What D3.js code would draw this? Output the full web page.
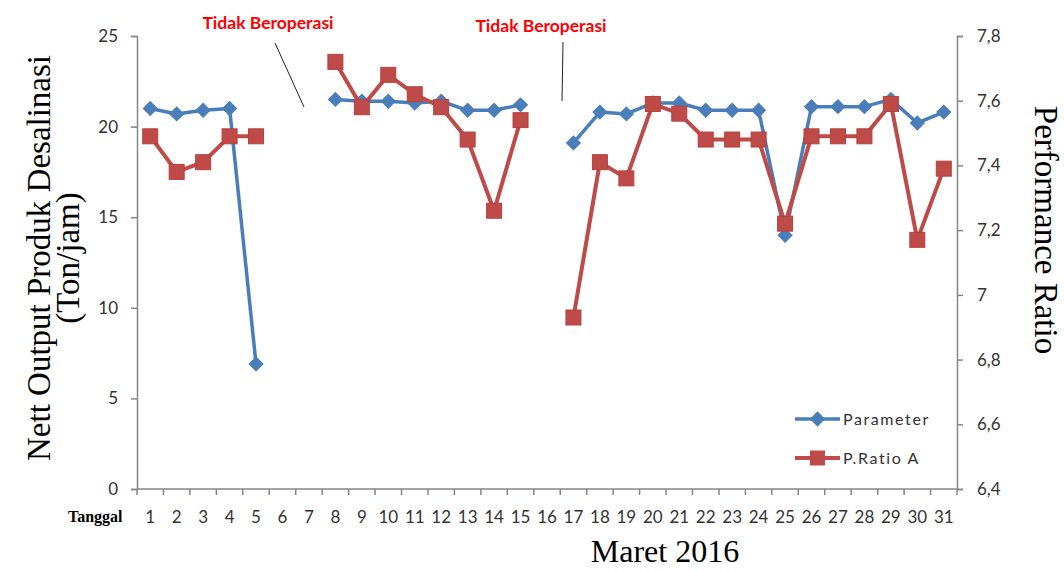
<!DOCTYPE html>
<html>
<head>
<meta charset="utf-8">
<script src="https://cdn.jsdelivr.net/npm/d3@7"></script>
<style>
  body { margin: 0; background: #fff; }
  svg { display: block; }
  .axis path, .axis line { stroke: #868686; stroke-width: 1.5; }
  .axis text { font-family: Lato, 'Open Sans', sans-serif; font-size: 17px; fill: #333; }
</style>
</head>
<body>
<svg></svg>
<script>
// tanggal (Maret 2016)
var days = ['1','2','3','4','5','6','7','8','9','10','11','12','13','14','15','16',
            '17','18','19','20','21','22','23','24','25','26','27','28','29','30','31'];
// Nett output produk desalinasi (ton/jam), left axis
var parameter = [21.0, 20.7, 20.9, 21.0, 6.9, null, null, 21.5, 21.4, 21.4, 21.3, 21.4, 20.9, 20.9, 21.2, null,
                 19.1, 20.8, 20.7, 21.3, 21.3, 20.9, 20.9, 20.9, 14.0, 21.1, 21.1, 21.1, 21.5, 20.2, 20.8];
// performance ratio, right axis
var ratioA = [7.49, 7.38, 7.41, 7.49, 7.49, null, null, 7.72, 7.58, 7.68, 7.62, 7.58, 7.48, 7.26, 7.54, null,
              6.93, 7.41, 7.36, 7.59, 7.56, 7.48, 7.48, 7.48, 7.22, 7.49, 7.49, 7.49, 7.59, 7.17, 7.39];
var leftTicks = [0, 5, 10, 15, 20, 25];
var rightTicks = [6.4, 6.6, 6.8, 7.0, 7.2, 7.4, 7.6, 7.8];
var seriesNames = ['Parameter', 'P.Ratio A'];
var notes = ['Tidak Beroperasi', 'Tidak Beroperasi'];

var W = 1064, H = 570;
var L = 137, R = 957, T = 36, B = 489;
var blue = '#4a7ebb', red = '#be4b48';

var svg = d3.select('svg').attr('width', W).attr('height', H);

var x = d3.scaleBand().domain(days).range([L, R]);
var yL = d3.scaleLinear().domain([0, 25]).range([B, T]);
var yR = d3.scaleLinear().domain([6.4, 7.8]).range([B, T]);

// axes
var xAxis = svg.append('g').attr('class', 'axis')
    .attr('transform', 'translate(0,' + B + ')')
    .call(d3.axisBottom(x).tickSize(0));
xAxis.select('.domain').attr('d', 'M' + L + ',0H' + R);
xAxis.selectAll('text').attr('dy', null).attr('y', 34);
// excel style ticks between the categories
xAxis.selectAll('.bnd').data(d3.range(days.length + 1)).enter().append('line')
    .attr('x1', function (i) { return L + i * x.step(); })
    .attr('x2', function (i) { return L + i * x.step(); })
    .attr('y1', 0).attr('y2', 6);

svg.append('g').attr('class', 'axis')
    .attr('transform', 'translate(' + L + ',0)')
    .call(d3.axisLeft(yL).tickValues(leftTicks).tickSizeOuter(0).tickSize(6).tickPadding(13));

svg.append('g').attr('class', 'axis')
    .attr('transform', 'translate(' + R + ',0)')
    .call(d3.axisRight(yR).tickValues(rightTicks).tickSizeOuter(0).tickSize(6).tickPadding(14)
        .tickFormat(function (d) { return d3.format('.1~f')(d).replace('.', ','); }));

// series
function cx(d, i) { return x(days[i]) + x.bandwidth() / 2; }
function defined(d) { return d !== null; }

var lineP = d3.line().defined(defined).x(cx).y(function (d) { return yL(d); });
var lineR = d3.line().defined(defined).x(cx).y(function (d) { return yR(d); });
var diamond = d3.symbol().type(d3.symbolDiamond2).size(150);

svg.append('path').attr('d', lineP(parameter))
    .attr('fill', 'none').attr('stroke', blue).attr('stroke-width', 3.5).attr('stroke-linejoin', 'round');
var gP = svg.append('g');
parameter.forEach(function (d, i) {
    if (d === null) return;
    gP.append('path').attr('d', diamond)
        .attr('transform', 'translate(' + cx(d, i) + ',' + yL(d) + ')')
        .attr('fill', blue);
});

svg.append('path').attr('d', lineR(ratioA))
    .attr('fill', 'none').attr('stroke', red).attr('stroke-width', 4).attr('stroke-linejoin', 'round');
var gR = svg.append('g');
ratioA.forEach(function (d, i) {
    if (d === null) return;
    gR.append('rect')
        .attr('x', cx(d, i) - 7.5).attr('y', yR(d) - 7.5)
        .attr('width', 15).attr('height', 15)
        .attr('fill', red).attr('stroke', '#b8413e').attr('stroke-width', 1);
});

// annotations
var noteG = svg.append('g');
noteG.append('text').attr('x', 268).attr('y', 29).text(notes[0]);
noteG.append('text').attr('x', 541).attr('y', 32).text(notes[1]);
noteG.selectAll('text')
    .attr('text-anchor', 'middle')
    .attr('font-family', 'Lato, sans-serif').attr('font-weight', 'bold')
    .attr('font-size', '17.5px').attr('fill', '#ff0000');
noteG.append('line').attr('x1', 275).attr('y1', 43).attr('x2', 304).attr('y2', 107)
    .attr('stroke', '#222').attr('stroke-width', 1);
noteG.append('line').attr('x1', 563).attr('y1', 42).attr('x2', 562).attr('y2', 101)
    .attr('stroke', '#222').attr('stroke-width', 1);

// legend
var leg = svg.append('g').attr('transform', 'translate(795,419)');
leg.append('line').attr('x1', 0).attr('x2', 45).attr('y1', 0).attr('y2', 0)
    .attr('stroke', blue).attr('stroke-width', 3.5);
leg.append('path').attr('d', diamond).attr('transform', 'translate(22.5,0)').attr('fill', blue);
leg.append('line').attr('x1', 0).attr('x2', 45).attr('y1', 39).attr('y2', 39)
    .attr('stroke', red).attr('stroke-width', 4);
leg.append('rect').attr('x', 15).attr('y', 31.5).attr('width', 15).attr('height', 15).attr('fill', red);
leg.selectAll('text').data(seriesNames).enter().append('text')
    .attr('x', 48)
    .attr('y', function (d, i) { return i * 39 + 6; })
    .attr('font-family', 'Lato, sans-serif').attr('font-size', '16px')
    .attr('letter-spacing', '1.6px').attr('fill', '#333')
    .text(function (d) { return d; });

// axis titles
var serif = "'Liberation Serif', 'Times New Roman', serif";
var lt = svg.append('text')
    .attr('transform', 'translate(50,258) rotate(-90)')
    .attr('text-anchor', 'middle')
    .attr('font-family', serif).attr('font-size', '33px').attr('fill', '#000');
lt.append('tspan').attr('x', 0).attr('y', 0).text('Nett Output Produk Desalinasi');
lt.append('tspan').attr('x', 0).attr('y', 29).text('(Ton/jam)');

svg.append('text')
    .attr('transform', 'translate(1035,230) rotate(90)')
    .attr('text-anchor', 'middle')
    .attr('font-family', serif).attr('font-size', '33px').attr('fill', '#000')
    .text('Performance Ratio');

svg.append('text')
    .attr('x', 665).attr('y', 562)
    .attr('text-anchor', 'middle')
    .attr('font-family', serif).attr('font-size', '32px').attr('fill', '#000')
    .text('Maret 2016');

svg.append('text')
    .attr('x', 68).attr('y', 522)
    .attr('font-family', serif).attr('font-weight', 'bold').attr('font-size', '16px').attr('fill', '#000')
    .text('Tanggal');
</script>
</body>
</html>
